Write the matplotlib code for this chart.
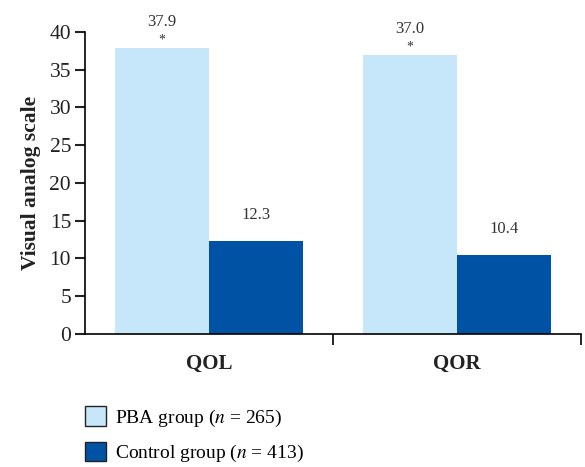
import matplotlib
matplotlib.use("Agg")
import matplotlib.pyplot as plt
import numpy as np
from matplotlib.patches import Patch

plt.rcParams['font.family'] = ['Liberation Serif', 'DejaVu Serif']
plt.rcParams['mathtext.fontset'] = 'stix'

# Data
categories = ['QOL', 'QOR']
pba_values = [37.9, 37.0]
control_values = [12.3, 10.4]
pba_label = r'PBA group ($n$ = 265)'
control_label = r'Control group ($n$ = 413)'

pba_color = '#C6E7F9'
control_color = '#0052A5'

fig = plt.figure(figsize=(5.85, 4.67), dpi=100)
ax = fig.add_axes([0.1453, 0.2848, 0.8479, 0.6467])

x = np.arange(len(categories))
width = 0.38
bars_pba = ax.bar(x - width / 2, pba_values, width, color=pba_color)
bars_ctrl = ax.bar(x + width / 2, control_values, width, color=control_color)

# Value labels, with significance marker over the PBA bars
for rect, val in zip(bars_pba, pba_values):
    cx = rect.get_x() + rect.get_width() / 2
    ax.annotate(f'{val:.1f}', (cx, val), xytext=(0, 13), textcoords='offset points',
                ha='center', va='bottom', fontsize=12, color='#333333')
    ax.annotate('*', (cx, val), xytext=(0, 1), textcoords='offset points',
                ha='center', va='bottom', fontsize=10, color='#333333')
for rect, val in zip(bars_ctrl, control_values):
    cx = rect.get_x() + rect.get_width() / 2
    ax.annotate(f'{val:.1f}', (cx, val), xytext=(0, 13), textcoords='offset points',
                ha='center', va='bottom', fontsize=12, color='#333333')

ax.set_xlim(-0.5, 1.5)
ax.set_ylim(0, 40)
ax.set_yticks(range(0, 41, 5))
ax.tick_params(axis='y', labelsize=15.5, length=7, width=1.5, direction='out', pad=3, colors='#222222')

# Category names centred, ticks between groups
ax.set_xticks([0.5, 1.5])
ax.set_xticklabels([])
ax.tick_params(axis='x', length=8, width=1.2, direction='out')
for xi, name in zip(x, categories):
    ax.text(xi, -0.1, name, transform=ax.get_xaxis_transform(), ha='center', va='center',
            fontsize=15, fontweight='bold', color='#222222')

ax.spines['top'].set_visible(False)
ax.spines['right'].set_visible(False)
ax.spines['left'].set_linewidth(1.2)
ax.spines['bottom'].set_linewidth(1.2)

ax.set_ylabel('Visual analog scale', fontsize=15.5, fontweight='bold', labelpad=6, color='#222222')

handles = [Patch(facecolor=pba_color, edgecolor='#222222', linewidth=1.0, label=pba_label),
           Patch(facecolor=control_color, edgecolor='#222222', linewidth=1.0, label=control_label)]
fig.legend(handles=handles, loc='upper left', bbox_to_anchor=(0.145, 0.13), frameon=False,
           fontsize=14, handlelength=1.1, handleheight=1.2, handletextpad=0.45,
           labelspacing=0.65, borderpad=0, borderaxespad=0)

fig.savefig('out.png', dpi=100)
